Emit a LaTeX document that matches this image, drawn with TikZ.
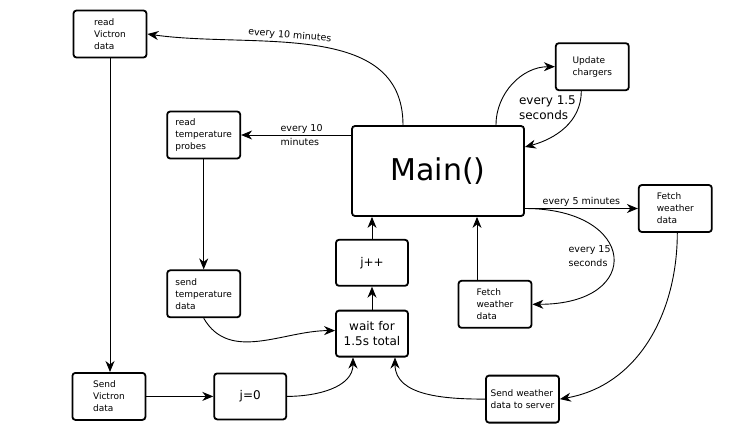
\documentclass[tikz,border=0pt]{standalone}
\usepackage{fontspec}
\setmainfont{DejaVu Sans}
\usetikzlibrary{arrows.meta, positioning, calc}

\begin{document}
\begin{tikzpicture}[
                taskbox/.style={rectangle, rounded corners=3pt, draw=black, line width=1.8pt, minimum width=73pt, minimum height=47pt, align=left, inner sep=2pt, font=\fontsize{9}{12}\selectfont},
                countbox/.style={taskbox, minimum width=72pt, minimum height=46pt, align=center, font=\fontsize{12}{15}\selectfont},
                mainbox/.style={taskbox, minimum width=172pt, minimum height=90pt, align=center, font=\fontsize{30}{36}\selectfont},
                arrow/.style={line width=0.9pt, ->, >={Stealth[length=11pt, width=9pt, inset=3.5pt]}},
                lbl/.style={font=\fontsize{9.5}{14}\selectfont, text=black, inner sep=2pt}
            ]%
            \useasboundingbox (0,0) rectangle (745pt,-426pt);
            %
            % Bucle principal
            \node[mainbox] (main) at (438pt,-171pt) {Main()};
            \node[countbox, below=22pt of main, xshift=-66pt] (jpp) {j++};
            \node[countbox, below=23pt of jpp] (wait) {wait for\\1.5s total};
            \node[countbox, below left=15pt and 48pt of wait] (jzero) {j=0};
            %
            % Tareas de lectura
            \node[taskbox] (victronread) at (110pt,-34pt) {read\\Victron\\data};
            \node[taskbox, left=67pt of jzero] (victronsend) {Send\\Victron\\data};
            \node[taskbox, left=110pt of main, yshift=36pt] (tempread) {read\\temperature\\probes};
            \node[taskbox, below=110pt of tempread] (tempsend) {send\\temperature\\data};
            \node[taskbox, above right=34pt and 30pt of main] (chargers) {Update\\chargers};
            %
            % Tareas del tiempo
            \node[taskbox, right=113pt of main, yshift=-37.5pt] (weatherfetch) {Fetch\\weather\\data};
            \node[taskbox, below=63pt of main, xshift=57pt] (weatherpoll) {Fetch\\weather\\data};
            \node[taskbox, below=46pt of weatherpoll, xshift=27.5pt] (weathersend) {Send weather\\data to server};
            %
            % Conexiones desde Main
            \draw[arrow] ([xshift=-35pt]main.north) to[out=90, in=-8] node[lbl, sloped, above, pos=0.58] {every 10 minutes} (victronread.east);
            \draw[arrow] (main.west |- tempread.east) -- node[lbl, pos=0.45, align=left] {every 10\\minutes} (tempread.east);
            \draw[arrow] ([xshift=58pt]main.north) to[out=90, in=180] (chargers.west);
            \draw[arrow] ([xshift=-11pt]chargers.south) to[out=-90, in=15] node[lbl, pos=0.2, left, align=left, font=\fontsize{12}{15}\selectfont] {every 1.5\\seconds} ([yshift=24pt]main.east);
            \draw[arrow] (main.east |- weatherfetch.west) -- node[lbl, above] {every 5 minutes} (weatherfetch.west);
            \draw[arrow] (main.east |- weatherfetch.west) to[out=0, in=0, looseness=3] node[lbl, pos=0.5, left, align=left] {every 15\\seconds} (weatherpoll.east);
            %
            % Conexiones hacia el bucle
            \draw[arrow] ([xshift=-18pt]weatherpoll.north) -- ([xshift=-18pt]weatherpoll.north |- main.south);
            \draw[arrow] ([xshift=2pt]weatherfetch.south) to[out=-90, in=10] (weathersend.east);
            \draw[arrow] (weathersend.west) to[out=180, in=-90] ([xshift=23pt]wait.south);
            \draw[arrow] (jzero.east) to[out=0, in=-90] ([xshift=-19pt]wait.south);
            \draw[arrow] (tempsend.south) to[out=-60, in=180] ([yshift=3pt]wait.west);
            \draw[arrow] (wait) -- (jpp);
            \draw[arrow] (jpp) -- (jpp.north |- main.south);
            \draw[arrow] (victronread) -- (victronread.south |- victronsend.north);
            \draw[arrow] (tempread) -- (tempsend);
            \draw[arrow] (victronsend) -- (jzero);
        \end{tikzpicture}
\end{document}
